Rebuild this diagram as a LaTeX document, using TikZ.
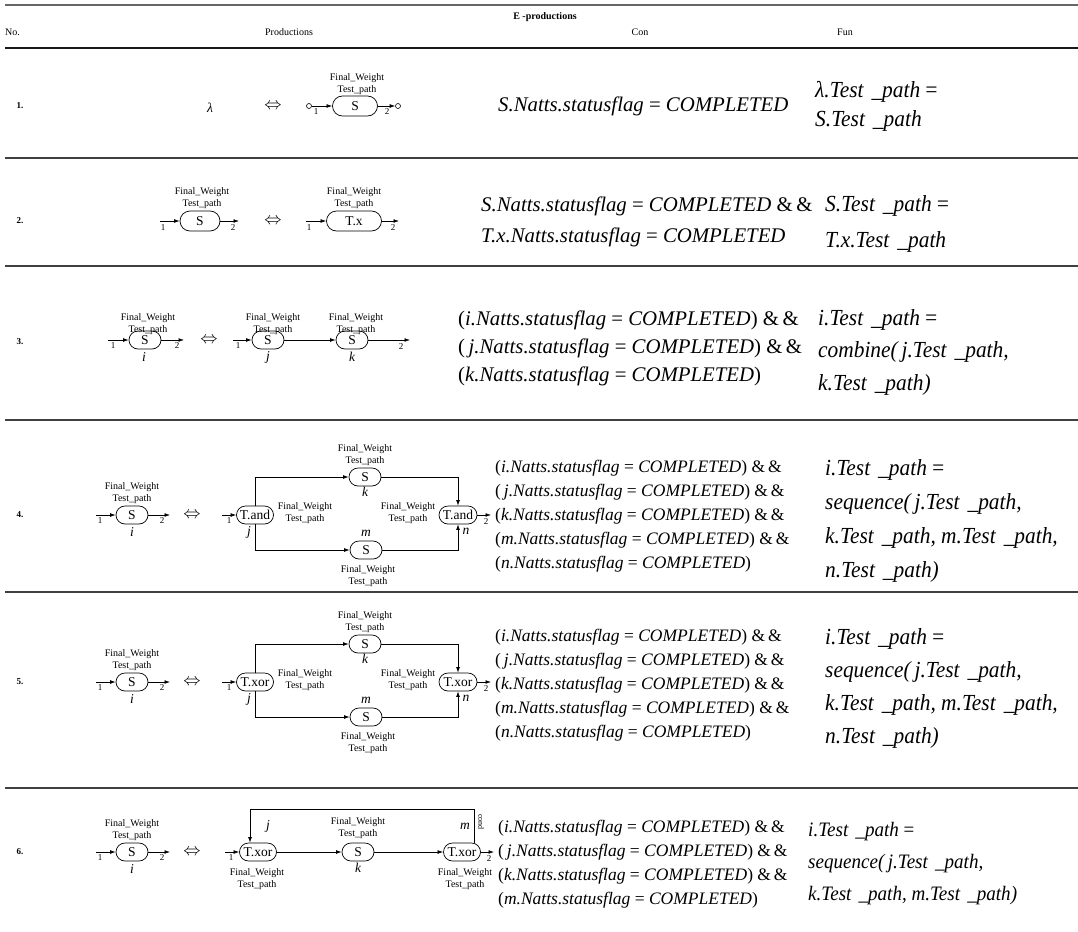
\documentclass[tikz,border=0pt]{standalone}
\usepackage{fontspec}
\setmainfont{Liberation Serif}
\newfontfamily\funfont[FakeStretch=0.93]{Liberation Serif}
\usetikzlibrary{arrows.meta}
\newcommand\fsz[1]{\fontsize{#1}{#1}\selectfont}
\newcommand\FT{Final\_Weight\\Test\_path}
\newcommand\nat[1]{\textit{#1.Natts.statusflag} = \textit{COMPLETED}}
\newcommand\tp[1]{#1.Test\hspace{0.35em}\_path}
\tikzset{
 nd/.style={draw, line width=0.7pt, rounded corners=9pt, minimum height=18pt, minimum width=32pt, inner sep=1pt, font=\fsz{13.5}},
 lab/.style={align=center, font=\fontsize{10}{11.5}\selectfont, inner sep=0pt},
 num/.style={font=\fsz{9}, inner sep=0pt},
 idx/.style={font=\itshape\fsz{13.5}, inner sep=0pt},
 arr/.style={-{Latex[length=5.5pt,width=3.8pt]}, line width=0.65pt},
 con/.style={anchor=west, inner sep=0pt, font=\fsz{20.8}},
 cons/.style={anchor=west, inner sep=0pt, font=\fsz{17.5}},
 fun/.style={anchor=west, inner sep=0pt, font=\funfont\itshape\fsz{23}},
 funs/.style={anchor=west, inner sep=0pt, font=\funfont\itshape\fsz{20.5}},
 rulel/.style={line width=1.3pt, black!75},
 rno/.style={font=\bfseries\fsz{9}, inner sep=0pt},
 circ/.style={draw, circle, minimum size=5pt, inner sep=0pt, line width=0.6pt},
 eqv/.style={font=\fsz{17}, inner sep=0pt},
}
% left part of rows 4-6: i-S with its input/output
\newcommand\leftpart[2]{%
 \node[nd] (#1i) at (132,#2) {S};
 \node[lab] (#1il) at (132,#2-22) {\FT};
 \node[idx] (#1ii) at (132,#2+17) {i};
 \coordinate (#1a) at (96,#2);
 \coordinate (#1b) at (170,#2);
 \draw[arr] (#1a) -- (#1i);
 \draw[arr] (#1i) -- (#1b);
 \node[num] (#1n1) at (100,#2+6) {1};
 \node[num] (#1n2) at (162,#2+6) {2};
 \node[eqv] (#1eq) at (192,#2) {$\Leftrightarrow$};
}
\newcommand\branch[3]{%
 \leftpart{#1}{#2}
 \node[nd, minimum width=37pt] (#1j) at (255,#2) {#3};
 \node[nd] (#1k) at (365,#2-38) {S};
 \node[nd, minimum width=38pt] (#1n) at (458,#2) {#3};
 \node[nd] (#1m) at (366,#2+35) {S};
 \node[lab] (#1kl) at (365,#2-60) {\FT};
 \node[idx] (#1kk) at (365,#2-23) {k};
 \node[idx] (#1mm) at (366,#2+18) {m};
 \node[lab] (#1ml) at (368,#2+61) {\FT};
 \node[lab] (#1jl) at (305,#2-2) {\FT};
 \node[lab] (#1nl) at (408,#2-2) {\FT};
 \node[idx] (#1jj) at (249,#2+17) {j};
 \node[idx] (#1nn) at (466,#2+16) {n};
 \coordinate (#1c) at (222,#2);
 \coordinate (#1d) at (491,#2);
 \draw[arr] (#1c) -- (#1j);
 \draw[arr] (#1n) -- (#1d);
 \node[num] (#1n3) at (229,#2+6) {1};
 \node[num] (#1n4) at (486,#2+7) {2};
 \draw[arr] (#1j.north) |- (#1k);
 \draw[arr] (#1k) -| (#1n);
 \draw[arr] (#1j.south) |- (#1m);
 \draw[arr] (#1m) -| (#1n);
}
\begin{document}
\begin{tikzpicture}[x=1pt,y=-1pt]
\useasboundingbox[fill=white] (0,0) rectangle (1078,931);
% rules
\draw[rulel, line width=1.8pt, black!60] (5,5) -- (1078,5);
\draw[rulel, line width=1.8pt, black!90] (5,48) -- (1078,48);
\foreach \yy in {158,266,420,592,788} \draw[rulel] (5,\yy) -- (1078,\yy);
% header
\node[font=\bfseries\fsz{10}, inner sep=0pt] (hdr) at (545,17) {E -productions};
\node[font=\fsz{10}, inner sep=0pt, anchor=west] (hno) at (5,32) {No.};
\node[font=\fsz{10}, inner sep=0pt] (hpr) at (289,32) {Productions};
\node[font=\fsz{10}, inner sep=0pt] (hcon) at (640,32) {Con};
\node[font=\fsz{10}, inner sep=0pt] (hfun) at (845,32) {Fun};

% ---------------- row 1
\node[rno] (rn1) at (20,106) {1.};
\node[idx] (lam) at (210,108) {λ};
\node[eqv] (r1eq) at (273,106) {$\Leftrightarrow$};
\node[circ] (r1c1) at (309,106) {};
\node[nd, minimum width=45pt, minimum height=20pt, rounded corners=10pt] (r1s) at (355,106) {S};
\node[circ] (r1c2) at (398,106) {};
\draw[arr] (r1c1) -- (r1s);
\draw[arr] (r1s) -- (r1c2);
\node[num] (r1n1) at (316,112) {1};
\node[num] (r1n2) at (387,112) {2};
\node[lab] (r1l) at (357,84) {\FT};
\node[con] (r1con) at (498,106) {\nat{S}};
\node[fun] (r1f1) at (815,92) {\tp{λ}\,=};
\node[fun] (r1f2) at (815,121) {\tp{S}};

% ---------------- row 2
\node[rno] (rn2) at (20,221) {2.};
\node[nd, minimum width=40pt, minimum height=20pt, rounded corners=10pt] (r2a) at (200,221) {S};
\node[lab] (r2al) at (202,198) {\FT};
\coordinate (r2ai) at (160,221);
\coordinate (r2ao) at (239,221);
\draw[arr] (r2ai) -- (r2a);
\draw[arr] (r2a) -- (r2ao);
\node[num] (r2n1) at (163,228) {1};
\node[num] (r2n2) at (233,228) {2};
\node[eqv] (r2eq) at (273,221) {$\Leftrightarrow$};
\node[nd, minimum width=55pt, minimum height=20pt, rounded corners=10pt] (r2b) at (354,221) {T.x};
\node[lab] (r2bl) at (354,198) {\FT};
\coordinate (r2bi) at (306,221);
\coordinate (r2bo) at (399,221);
\draw[arr] (r2bi) -- (r2b);
\draw[arr] (r2b) -- (r2bo);
\node[num] (r2n3) at (309,228) {1};
\node[num] (r2n4) at (393,228) {2};
\node[con] (r2c1) at (481,206) {\nat{S} \&\,\&};
\node[con] (r2c2) at (481,237) {\nat{T.x}};
\node[fun] (r2f1) at (825,206) {\tp{S}\,=};
\node[fun] (r2f2) at (825,242) {\tp{T.x}};

% ---------------- row 3
\node[rno] (rn3) at (20,342) {3.};
\node[nd] (r3i) at (145,340) {S};
\node[lab] (r3il) at (148,324) {\FT};
\node[idx] (r3ii) at (144,357) {i};
\coordinate (r3ia) at (108,340);
\coordinate (r3ib) at (184,340);
\draw[arr] (r3ia) -- (r3i);
\draw[arr] (r3i) -- (r3ib);
\node[num] (r3n1) at (113,346) {1};
\node[num] (r3n2) at (177,346) {2};
\node[eqv] (r3eq) at (209,340) {$\Leftrightarrow$};
\node[nd] (r3j) at (268,340) {S};
\node[nd] (r3k) at (352,340) {S};
\node[lab] (r3jl) at (273,324) {\FT};
\node[lab] (r3kl) at (356,324) {\FT};
\node[idx] (r3jj) at (268,357) {j};
\node[idx] (r3kk) at (352,357) {k};
\coordinate (r3ja) at (233,340);
\coordinate (r3ko) at (410,340);
\draw[arr] (r3ja) -- (r3j);
\draw[arr] (r3j) -- (r3k);
\draw[arr] (r3k) -- (r3ko);
\node[num] (r3n3) at (238,346) {1};
\node[num] (r3n4) at (401,347) {2};
\node[con] (r3c1) at (458,320) {(\nat{i}) \&\,\&};
\node[con] (r3c2) at (458,348) {(\nat{\,j}) \&\,\&};
\node[con] (r3c3) at (458,376) {(\nat{k})};
\node[fun] (r3f1) at (818,320) {\tp{i}\,=};
\node[fun] (r3f2) at (818,352) {combine(\,\tp{j},};
\node[fun] (r3f3) at (818,385) {\tp{k})};

% ---------------- row 4
\node[rno] (rn4) at (20,515) {4.};
\branch{r4}{515}{T.and}
\node[cons] (r4c1) at (495,468) {(\nat{i}) \&\,\&};
\node[cons] (r4c2) at (495,492) {(\nat{\,j}) \&\,\&};
\node[cons] (r4c3) at (495,516) {(\nat{k}) \&\,\&};
\node[cons] (r4c4) at (495,540) {(\nat{m}) \&\,\&};
\node[cons] (r4c5) at (495,564) {(\nat{n})};
\node[fun] (r4f1) at (825,470) {\tp{i}\,=};
\node[fun] (r4f2) at (825,504) {sequence(\,\tp{j},};
\node[fun] (r4f3) at (825,538) {\tp{k}, \tp{m},};
\node[fun] (r4f4) at (825,572) {\tp{n})};

% ---------------- row 5
\node[rno] (rn5) at (20,682) {5.};
\branch{r5}{682}{T.xor}
\node[cons] (r5c1) at (495,637) {(\nat{i}) \&\,\&};
\node[cons] (r5c2) at (495,661) {(\nat{\,j}) \&\,\&};
\node[cons] (r5c3) at (495,685) {(\nat{k}) \&\,\&};
\node[cons] (r5c4) at (495,709) {(\nat{m}) \&\,\&};
\node[cons] (r5c5) at (495,733) {(\nat{n})};
\node[fun] (r5f1) at (825,639) {\tp{i}\,=};
\node[fun] (r5f2) at (825,672) {sequence(\,\tp{j},};
\node[fun] (r5f3) at (825,705) {\tp{k}, \tp{m},};
\node[fun] (r5f4) at (825,738) {\tp{n})};

% ---------------- row 6
\node[rno] (rn6) at (20,852) {6.};
\leftpart{r6}{852}
\node[nd, minimum width=37pt] (r6j) at (258,852) {T.xor};
\node[nd] (r6k) at (358,852) {S};
\node[nd, minimum width=37pt] (r6n) at (462,852) {T.xor};
\coordinate (r6c) at (225,852);
\coordinate (r6d) at (494,852);
\draw[arr] (r6c) -- (r6j);
\draw[arr] (r6j) -- (r6k);
\draw[arr] (r6k) -- (r6n);
\draw[arr] (r6n) -- (r6d);
\draw[arr] ([xshift=12pt]r6n.north) -- ++(0,-33) -| ([xshift=-8pt]r6j.north);
\node[num] (r6n3) at (231,858) {1};
\node[num] (r6n4) at (489,859) {2};
\node[lab] (r6kl) at (358,828) {\FT};
\node[idx] (r6kk) at (358,868) {k};
\node[idx] (r6jj) at (268,826) {j};
\node[idx] (r6mm) at (465,826) {m};
\node[num, rotate=-90, font=\fsz{8}] (r6cond) at (481,822) {cond};
\node[lab] (r6jl) at (257,879) {\FT};
\node[lab] (r6nl) at (465,879) {\FT};
\node[cons] (r6c1) at (498,828) {(\nat{i}) \&\,\&};
\node[cons] (r6c2) at (498,852) {(\nat{\,j}) \&\,\&};
\node[cons] (r6c3) at (498,876) {(\nat{k}) \&\,\&};
\node[cons] (r6c4) at (498,900) {(\nat{m})};
\node[funs] (r6f1) at (808,832) {\tp{i}\,=};
\node[funs] (r6f2) at (808,864) {sequence(\,\tp{j},};
\node[funs] (r6f3) at (808,896) {\tp{k}, \tp{m})};
\end{tikzpicture}
\end{document}
